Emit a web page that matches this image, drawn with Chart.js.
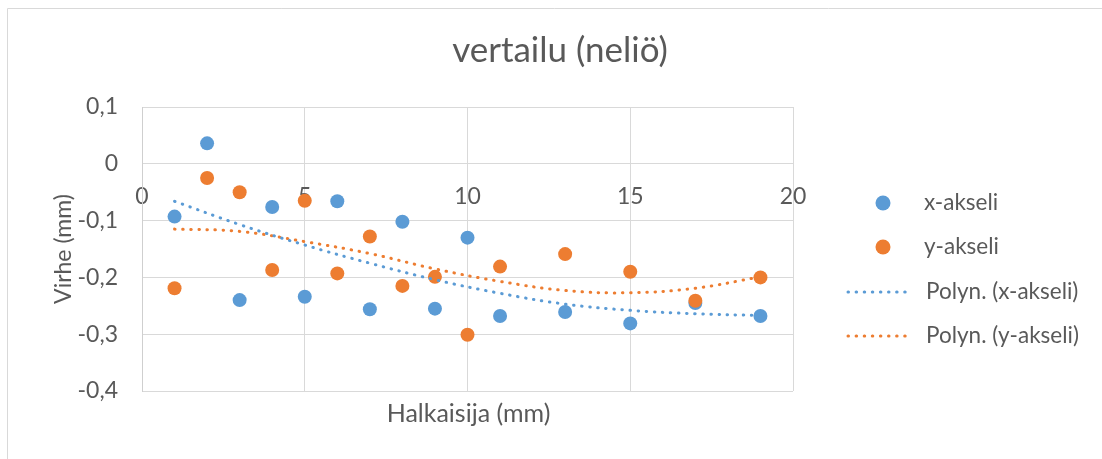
<!DOCTYPE html>
<html lang="fi">
<head>
<meta charset="utf-8">
<title>vertailu (neliö)</title>
<script src="https://cdn.jsdelivr.net/npm/chart.js@4/dist/chart.umd.min.js"></script>
<style>
  html, body { margin: 0; padding: 0; background: #fff; }
  #wrap { width: 1102px; height: 459px; }
</style>
</head>
<body>
<div id="wrap"><canvas id="chart" width="1102" height="459"></canvas></div>
<script>
"use strict";

// halkaisija (mm) for each measurement
const diameters = [1, 2, 3, 4, 5, 6, 7, 8, 9, 10, 11, 13, 15, 17, 19];
const xAxisErr = [-0.093, 0.036, -0.240, -0.076, -0.234, -0.066, -0.256, -0.102, -0.255, -0.130, -0.268, -0.261, -0.281, -0.245, -0.268];
const yAxisErr = [-0.219, -0.025, -0.050, -0.187, -0.065, -0.193, -0.128, -0.215, -0.199, -0.301, -0.181, -0.159, -0.190, -0.241, -0.200];

// trendline
const trendX = [1, 3, 5, 7, 9, 11, 13, 15, 17, 19];
const trendXAxis = [-0.066, -0.107, -0.143, -0.175, -0.204, -0.228, -0.247, -0.258, -0.264, -0.267];
const trendYAxis = [-0.115, -0.119, -0.137, -0.158, -0.185, -0.207, -0.223, -0.227, -0.219, -0.199];

const seriesNames = ["x-akseli", "y-akseli", "Polyn. (x-akseli)", "Polyn. (y-akseli)"];
const xTicks = [0, 5, 10, 15, 20];

const COLORS = { blue: "#5b9bd5", orange: "#ed7d31", text: "#595959", grid: "#d9d9d9", frame: "#d9d9d9" };
const FONT = "Lato, 'Open Sans', sans-serif";
const DOT = [0.5, 7.6];

const pts = (xs, ys) => xs.map((x, i) => ({ x: x, y: ys[i] }));
const fmt = (v) => { const r = Math.round(v * 10) / 10; return r === 0 ? "0" : r.toFixed(1).replace(".", ","); };

// frame, title, x title and legend drawn by hand
const decor = {
  id: "decor",
  beforeDraw(chart) {
    const ctx = chart.ctx;
    ctx.save();
    ctx.strokeStyle = COLORS.frame;
    ctx.lineWidth = 1;
    ctx.beginPath();
    ctx.moveTo(7.5, 459); ctx.lineTo(7.5, 8.5); ctx.lineTo(1102, 8.5);
    ctx.stroke();
    ctx.restore();
  },
  afterDraw(chart) {
    const ctx = chart.ctx;
    const a = chart.chartArea;
    ctx.save();
    ctx.fillStyle = COLORS.text;
    ctx.textAlign = "center";
    ctx.textBaseline = "alphabetic";
    ctx.font = "35px " + FONT;
    ctx.fillText("vertailu (neliö)", 560, 62);
    ctx.font = "25px " + FONT;
    ctx.fillText("Halkaisija (mm)", (a.left + a.right) / 2 + 1, 422);

    const rows = [203, 247, 292, 336];
    ctx.textAlign = "left";
    ctx.textBaseline = "middle";
    ctx.font = "22.5px " + FONT;
    seriesNames.forEach((name, i) => {
      const y = rows[i];
      const col = i % 2 === 0 ? COLORS.blue : COLORS.orange;
      if (i < 2) {
        ctx.fillStyle = col;
        ctx.beginPath();
        ctx.arc(883, y, 7.5, 0, Math.PI * 2);
        ctx.fill();
      } else {
        ctx.strokeStyle = col;
        ctx.lineWidth = 3;
        ctx.lineCap = "round";
        ctx.setLineDash(DOT);
        ctx.beginPath();
        ctx.moveTo(848, y); ctx.lineTo(912, y);
        ctx.stroke();
        ctx.setLineDash([]);
      }
      ctx.fillStyle = COLORS.text;
      ctx.fillText(name, i < 2 ? 924 : 926, y);
    });
    ctx.restore();
  },
};

function trendSet(label, ys, color) {
  return {
    label: label, data: pts(trendX, ys), showLine: true, order: 0,
    borderColor: color, borderWidth: 3, borderDash: DOT, borderCapStyle: "round",
    tension: 0.4, pointRadius: 0, pointHoverRadius: 0, fill: false,
  };
}

new Chart(document.getElementById("chart"), {
  type: "scatter",
  data: {
    datasets: [
      { label: seriesNames[0], data: pts(diameters, xAxisErr), order: 2,
        backgroundColor: COLORS.blue, borderColor: COLORS.blue, pointRadius: 7, borderWidth: 0 },
      { label: seriesNames[1], data: pts(diameters, yAxisErr), order: 1,
        backgroundColor: COLORS.orange, borderColor: COLORS.orange, pointRadius: 7, borderWidth: 0 },
      trendSet(seriesNames[2], trendXAxis, COLORS.blue),
      trendSet(seriesNames[3], trendYAxis, COLORS.orange),
    ],
  },
  plugins: [decor],
  options: {
    responsive: false,
    animation: false,
    layout: { padding: { left: 50, top: 107, right: 309, bottom: 68 } },
    plugins: { legend: { display: false }, title: { display: false }, tooltip: { enabled: false } },
    scales: {
      x: {
        type: "linear", min: 0, max: 20, position: { y: 0 },
        afterFit: (s) => { s.height = 0; },
        afterBuildTicks: (s) => { s.ticks = xTicks.map((v) => ({ value: v })); },
        grid: { color: COLORS.grid, drawTicks: false },
        border: { color: COLORS.grid },
        ticks: { color: COLORS.text, padding: 19, font: { family: FONT, size: 23 }, maxRotation: 0 },
      },
      y: {
        min: -0.4, max: 0.1,
        afterFit: (s) => { s.width = 92; },
        grid: { color: COLORS.grid, drawTicks: false },
        border: { color: "#cfcfcf" },
        ticks: { stepSize: 0.1, color: COLORS.text, padding: 24, font: { family: FONT, size: 23 }, callback: fmt },
        title: { display: true, text: "Virhe (mm)", color: COLORS.text, padding: 0, font: { family: FONT, size: 23 } },
      },
    },
  },
});
</script>
</body>
</html>
